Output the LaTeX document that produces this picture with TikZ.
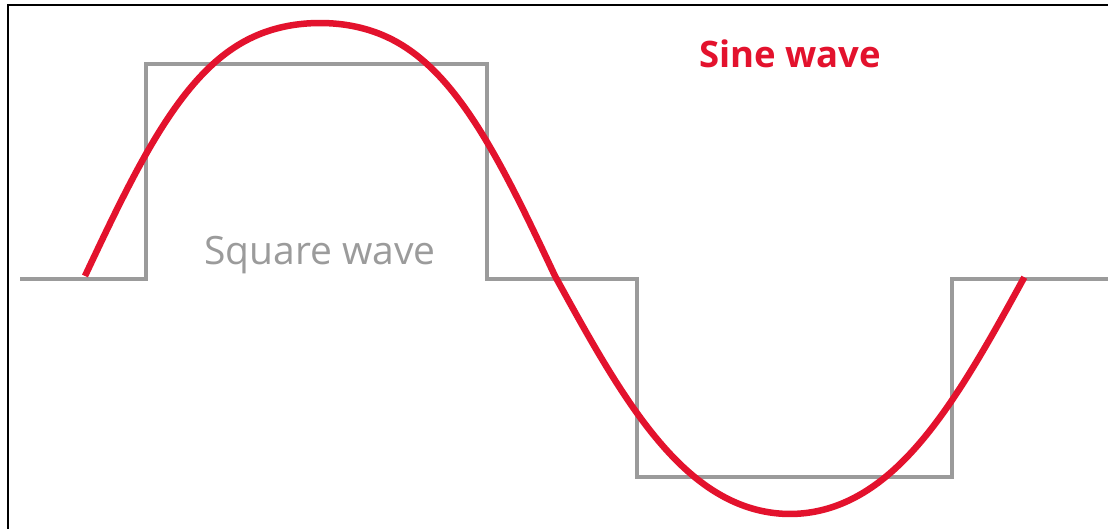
\documentclass[tikz,border=0pt]{standalone}
\usepackage{fontspec}
\setmainfont{Open Sans}
\definecolor{sqgray}{HTML}{9B9B9B}
\definecolor{sinered}{HTML}{E3122D}
\tikzset{
  frameline/.style={black, line width=2.5pt},
  squarewave/.style={sqgray, line width=4.5pt, line join=miter},
  sinewave/.style={sinered, line width=6.5pt},
  sqlabel/.style={text=sqgray, font=\fontsize{39}{41}\selectfont, inner sep=0pt, anchor=base west},
  sinelabel/.style={text=sinered, font=\bfseries\fontsize{36.5}{40}\selectfont, inner sep=0pt, anchor=base west}
}
\begin{document}
\begin{tikzpicture}[x=1pt,y=-1pt]
\useasboundingbox (0,0) rectangle (1108,529);
\fill[white] (0,0) rectangle (1108,529);
% frame
\draw[frameline] (8,529) -- (8,5) -- (1108,5);
% square wave
\draw[squarewave] (20,279) -- (146,279) -- (146,64) -- (487,64) -- (487,279) -- (637,279) -- (637,477) -- (952,477) -- (952,279) -- (1108,279);
% sine wave
\draw[sinewave] plot[domain=0:1, samples=100, smooth] ({85+470*\x}, {276 - 253*(sin(180*\x)+0.06*sin(540*\x))/0.94})
  -- plot[domain=0:1, samples=100, smooth] ({555+470*\x}, {276 + 238*(sin(180*\x)+0.035*sin(540*\x))/0.965});
% labels
\node[sqlabel] (sq) at (204,265) {Square wave};
\node[sinelabel] (sine) at (699,68) {Sine wave};
\end{tikzpicture}
\end{document}
